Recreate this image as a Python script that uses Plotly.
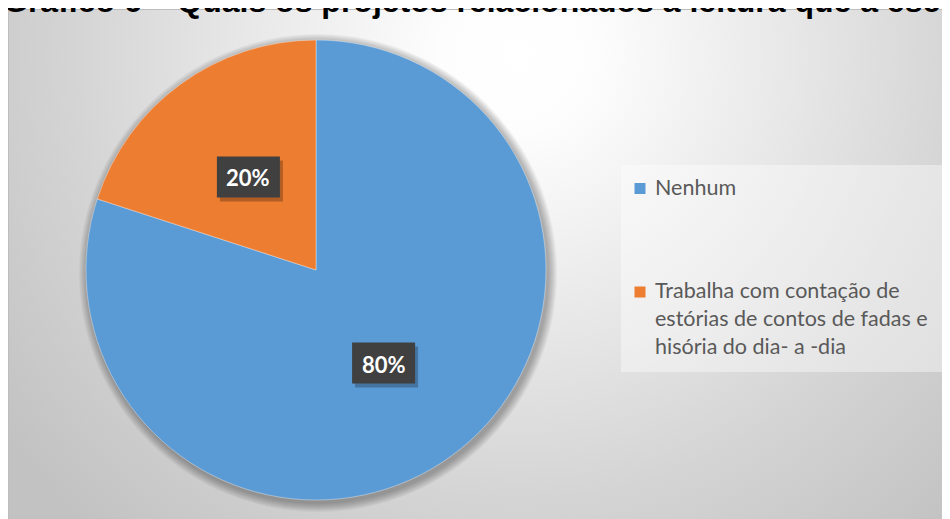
import base64
import math
import plotly.graph_objects as go

# ---- data ----
categories = ["Nenhum",
              "Trabalha com contação de estórias de contos de fadas e hisória do dia- a -dia"]
legend_lines = [["Nenhum"],
                ["Trabalha com contação de", "estórias de contos de fadas e", "hisória do dia- a -dia"]]
values = [80, 20]
pct_labels = ["80%", "20%"]
colors = ["#5B9BD5", "#ED7D31"]
title_text = "Gráfico 6 – Quais os projetos relacionados à leitura que a escola desenvolve"

W, H = 950, 519
OFF = 8  # page body margin in the browser


def px(x):
    return (x - OFF) / W


def py(y):
    return 1 - (y - OFF) / H


# pie geometry (page pixels)
CX, CY, R = 316, 270, 230

fig = go.Figure()
fig.add_trace(go.Pie(
    labels=categories, values=values, sort=False, direction="clockwise", rotation=0,
    marker=dict(colors=colors, line=dict(color="rgba(255,255,255,0.6)", width=0.6)),
    textinfo="none", showlegend=False,
    domain=dict(x=[px(CX - R), px(CX + R)], y=[py(CY + R), py(CY - R)]),
))

shapes = []
annotations = []

# background gradient image
svg = ("<svg xmlns='http://www.w3.org/2000/svg' width='950' height='520'>"
       "<defs><radialGradient id='g' cx='510' cy='45' r='640' gradientUnits='userSpaceOnUse'>"
       "<stop offset='0' stop-color='#ffffff'/>"
       "<stop offset='0.12' stop-color='#fdfdfd'/>"
       "<stop offset='0.45' stop-color='#e6e6e6'/>"
       "<stop offset='0.7' stop-color='#d4d4d4'/>"
       "<stop offset='1' stop-color='#c2c2c2'/>"
       "</radialGradient></defs>"
       "<rect width='950' height='520' fill='url(#g)'/></svg>")
src = "data:image/svg+xml;base64," + base64.b64encode(svg.encode()).decode()

# chart-area border
shapes.append(dict(type="rect", xref="paper", yref="paper", x0=px(8.5), x1=px(960), y0=py(530), y1=py(9.5),
                   line=dict(color="#bdbdbd", width=1), fillcolor="rgba(0,0,0,0)", layer="below"))

# soft shadow behind pie
for k in range(1, 10):
    r = R + k
    shapes.append(dict(type="circle", xref="paper", yref="paper",
                       x0=px(CX + 2 - r), x1=px(CX + 2 + r), y0=py(CY + 3 + r), y1=py(CY + 3 - r),
                       line=dict(width=0), fillcolor="rgba(0,0,0,0.035)", layer="below"))

# data labels (dark boxes) at the middle of each slice, half the radius
total = sum(values)
cum = 0
for v, lab in zip(values, pct_labels):
    theta = 2 * math.pi * (cum + v / 2) / total
    cum += v
    lx = CX + 0.5 * R * math.sin(theta)
    ly = CY - 0.5 * R * math.cos(theta)
    bw, bh = 63, 41
    shapes.append(dict(type="rect", xref="paper", yref="paper",
                       x0=px(lx - bw / 2 + 3), x1=px(lx + bw / 2 + 3), y0=py(ly + bh / 2 + 4), y1=py(ly - bh / 2 + 4),
                       line=dict(width=0), fillcolor="rgba(0,0,0,0.25)", layer="above"))
    shapes.append(dict(type="rect", xref="paper", yref="paper",
                       x0=px(lx - bw / 2), x1=px(lx + bw / 2), y0=py(ly + bh / 2), y1=py(ly - bh / 2),
                       line=dict(width=0), fillcolor="#404040", layer="above"))
    annotations.append(dict(text=lab, x=px(lx), y=py(ly + 1), xref="paper", yref="paper",
                            xanchor="center", yanchor="middle", showarrow=False,
                            font=dict(family="Lato", size=22, color="white", weight="bold")))

# legend box
shapes.append(dict(type="rect", xref="paper", yref="paper", x0=px(621), x1=px(947), y0=py(372), y1=py(165),
                   line=dict(width=0), fillcolor="rgba(255,255,255,0.4)", layer="below"))
legend_sq_y = [188.5, 292]
legend_txt_y = [187.5, 318]
for lines, col, sy, ty in zip(legend_lines, colors, legend_sq_y, legend_txt_y):
    shapes.append(dict(type="rect", xref="paper", yref="paper", x0=px(634.5), x1=px(645.5),
                       y0=py(sy + 5.5), y1=py(sy - 5.5), line=dict(width=0), fillcolor=col, layer="above"))
    annotations.append(dict(text="<br>".join(lines), x=px(653), y=py(ty), xref="paper", yref="paper",
                            xanchor="left", yanchor="middle", align="left", showarrow=False,
                            font=dict(family="Lato", size=21.5, color="#595959")))

# title (cropped at top, as in the source)
annotations.append(dict(text="<b>" + title_text + "</b>", x=px(1), y=py(21), xref="paper", yref="paper",
                        xanchor="left", yanchor="bottom", showarrow=False, align="left",
                        font=dict(family="Liberation Sans", size=32, color="black")))

fig.update_layout(
    width=W, height=H, margin=dict(l=0, r=0, t=0, b=0),
    paper_bgcolor="white", plot_bgcolor="white",
    shapes=shapes, annotations=annotations,
    images=[dict(source=src, xref="paper", yref="paper", x=px(8), y=py(9.5), sizex=950 / W, sizey=520 / H,
                 sizing="stretch", xanchor="left", yanchor="top", layer="below")],
)

fig.write_html("out.html")
